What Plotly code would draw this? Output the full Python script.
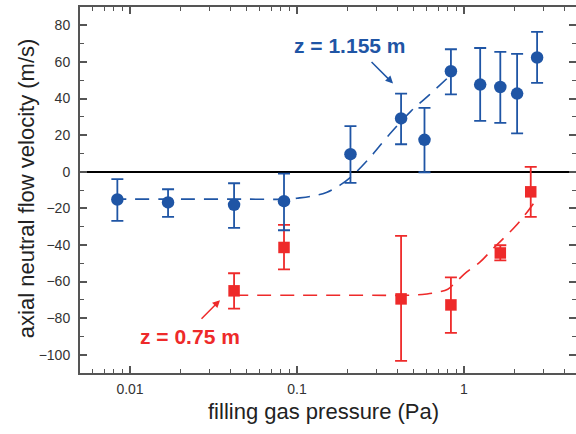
import math
import plotly.graph_objects as go

# ---- data ----
blue_x = [0.0084, 0.0169, 0.042, 0.0836, 0.209, 0.42, 0.58, 0.835, 1.25, 1.65, 2.08, 2.74]
blue_y = [-15.2, -16.8, -18.1, -16.1, 9.6, 29.1, 17.4, 54.9, 47.6, 46.3, 42.7, 62.4]
blue_hi = [-4.1, -9.6, -6.3, -1.0, 24.9, 42.7, 34.9, 66.9, 67.6, 65.5, 64.4, 76.4]
blue_lo = [-26.9, -24.7, -30.7, -32.0, -6.1, 15.0, -0.3, 42.3, 27.8, 26.7, 20.9, 48.5]

red_x = [0.042, 0.0836, 0.42, 0.835, 1.65, 2.51]
red_y = [-65.1, -41.4, -69.5, -72.8, -44.4, -11.0]
red_hi = [-55.5, -29.1, -35.1, -57.7, -40.2, 2.6]
red_lo = [-74.8, -53.4, -103.4, -88.1, -48.5, -24.7]

blue_fit_x = [0.0078, 0.02, 0.05, 0.09, 0.1, 0.125, 0.15, 0.18, 0.21, 0.275, 0.35, 0.48, 0.62, 0.81]
blue_fit_y = [-15, -15, -15, -15, -14.5, -13.2, -11.4, -7.5, -3, 8, 19.4, 33, 42, 51.8]

red_fit_x = [0.042, 0.2, 0.5, 0.6, 0.7, 0.8, 0.9, 1.04, 1.25, 1.5, 1.7, 2.0, 2.3, 2.65]
red_fit_y = [-67.5, -67.5, -67.4, -66.8, -65.8, -64.2, -60, -54.8, -49.3, -41.8, -37, -30.5, -24, -16.5]

x_tickvals = [0.01, 0.1, 1]
x_ticktext = ["0.01", "0.1", "1"]
y_tickvals = [-100, -80, -60, -40, -20, 0, 20, 40, 60, 80]

x_title = "filling gas pressure (Pa)"
y_title = "axial neutral flow velocity (m/s)"

BLUE = "#1f55a5"
RED = "#ee2a2a"
AXIS = "#555555"
FONT = "Liberation Sans, Arial, sans-serif"

fig = go.Figure()

fig.add_trace(go.Scatter(x=red_fit_x, y=red_fit_y, mode="lines", line_shape="spline",
                         line=dict(color=RED, width=1.6, dash="14px,9px"), showlegend=False))
fig.add_trace(go.Scatter(x=blue_fit_x, y=blue_fit_y, mode="lines", line_shape="spline",
                         line=dict(color=BLUE, width=1.6, dash="14px,9px"), showlegend=False))

fig.add_trace(go.Scatter(
    x=red_x, y=red_y, mode="markers",
    marker=dict(symbol="square", size=11.5, color=RED),
    error_y=dict(type="data", symmetric=False,
                 array=[h - v for h, v in zip(red_hi, red_y)],
                 arrayminus=[v - l for l, v in zip(red_lo, red_y)],
                 color=RED, thickness=1.8, width=6),
    showlegend=False))

fig.add_trace(go.Scatter(
    x=blue_x, y=blue_y, mode="markers",
    marker=dict(symbol="circle", size=12.5, color=BLUE),
    error_y=dict(type="data", symmetric=False,
                 array=[h - v for h, v in zip(blue_hi, blue_y)],
                 arrayminus=[v - l for l, v in zip(blue_lo, blue_y)],
                 color=BLUE, thickness=1.8, width=6),
    showlegend=False))

# annotations (x in log10 units for log axis)
fig.add_annotation(x=math.log10(0.2075), y=69.1, text="<b>z = 1.155 m</b>", showarrow=False,
                   font=dict(family=FONT, size=21, color=BLUE), xanchor="center", yanchor="middle")
fig.add_annotation(x=math.log10(0.376), y=48.2, text="", showarrow=True, arrowhead=2, arrowsize=1,
                   arrowwidth=1.5, arrowcolor=BLUE, ax=-23, ay=-23, axref="pixel", ayref="pixel")
fig.add_annotation(x=math.log10(0.02296), y=-90.1, text="<b>z = 0.75 m</b>", showarrow=False,
                   font=dict(family=FONT, size=21, color=RED), xanchor="center", yanchor="middle")
fig.add_annotation(x=math.log10(0.0346), y=-70.2, text="", showarrow=True, arrowhead=2, arrowsize=1,
                   arrowwidth=1.5, arrowcolor=RED, ax=-20, ay=20, axref="pixel", ayref="pixel")

# axis titles as paper-positioned text
fig.add_annotation(xref="paper", yref="paper", x=0.491, y=-0.104, text=x_title, showarrow=False,
                   font=dict(family=FONT, size=22, color="#222222"), xanchor="center", yanchor="middle")
fig.add_annotation(xref="paper", yref="paper", x=-0.1089, y=0.505, text=y_title, showarrow=False,
                   textangle=-90, font=dict(family=FONT, size=22, color="#222222"),
                   xanchor="center", yanchor="middle")

fig.update_layout(
    width=576, height=434,
    margin=dict(l=80, r=0, t=7, b=61),
    paper_bgcolor="white", plot_bgcolor="white",
    font=dict(family=FONT, color="#333333"),
    xaxis=dict(
        type="log", range=[-2.2994, 0.6707], automargin=False,
        tickvals=x_tickvals, ticktext=x_ticktext,
        ticks="inside", ticklen=7, tickwidth=1.5, tickcolor=AXIS,
        minor=dict(ticks="inside", ticklen=4, tickwidth=1.2, tickcolor=AXIS, dtick="D1", showgrid=False),
        showline=True, linecolor=AXIS, linewidth=2, mirror="ticks",
        showgrid=False, zeroline=False,
        tickfont=dict(size=14, color="#333333"),
        ticklabelstandoff=2,
    ),
    yaxis=dict(
        range=[-110, 90], automargin=False,
        tickvals=y_tickvals,
        ticks="inside", ticklen=7, tickwidth=1.5, tickcolor=AXIS,
        minor=dict(ticks="inside", ticklen=4, tickwidth=1.2, tickcolor=AXIS, dtick=10, showgrid=False),
        showline=True, linecolor=AXIS, linewidth=2, mirror="ticks",
        showgrid=False,
        zeroline=True, zerolinecolor="black", zerolinewidth=1.6,
        tickfont=dict(size=14, color="#333333"),
        ticklabelstandoff=5,
    ),
)

fig.write_html(
    "out.html",
    config={"displayModeBar": False},
    post_script="document.body.style.margin='0';document.body.style.overflow='hidden';",
)
